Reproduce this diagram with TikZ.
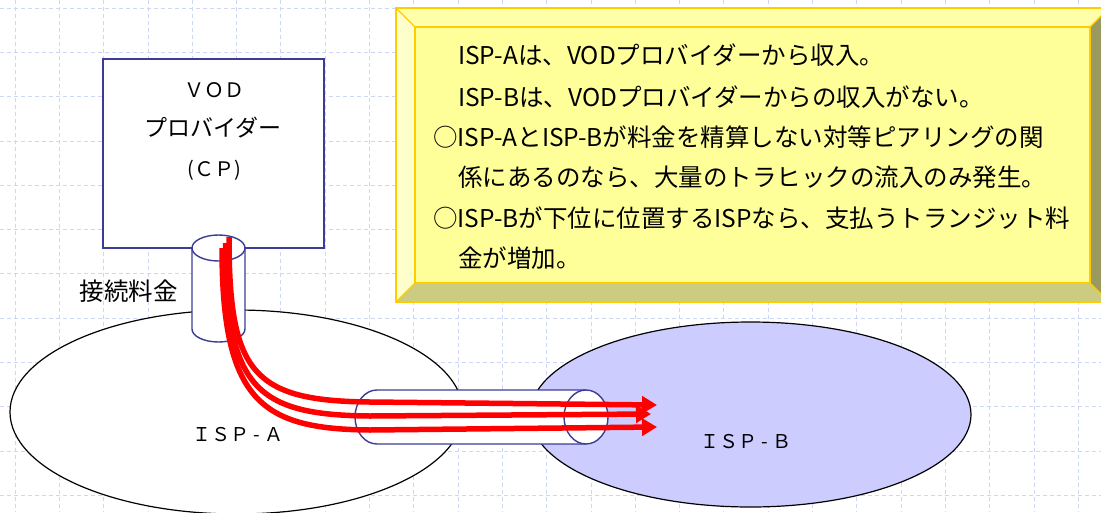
\documentclass[tikz,border=0pt]{standalone}
\usepackage{fontspec}
\newfontfamily\jp{Noto Sans CJK JP}
\usetikzlibrary{arrows.meta}
\definecolor{gridc}{RGB}{205,214,245}
\definecolor{cylc}{RGB}{60,60,150}
\definecolor{ispb}{RGB}{204,204,255}
\definecolor{face}{RGB}{255,255,153}
\definecolor{topbev}{RGB}{255,255,170}
\definecolor{leftbev}{RGB}{255,255,204}
\definecolor{botbev}{RGB}{204,204,128}
\definecolor{rightbev}{RGB}{153,153,96}
\definecolor{goldc}{RGB}{255,204,0}
\tikzset{
  gridline/.style={draw=gridc, line width=0.8pt, dash pattern=on 4pt off 3pt},
  bluestroke/.style={draw=cylc, line width=1.4pt},
  flow/.style={draw=red, line width=5.5pt, -{Triangle[length=15pt,width=17pt]}},
  jtext/.style={font=\jp, inner sep=0pt, text=black},
  boxline/.style={jtext, font=\jp\fontsize{24.5}{28}\selectfont, anchor=west},
}
\begin{document}
\begin{tikzpicture}[x=1pt,y=-1pt]
\useasboundingbox (0,0) rectangle (1101,512);
\begin{scope}
\clip (0,0) rectangle (1101,512);
% grid
\foreach \i in {0,...,24} {\draw[gridline] (15+44.3*\i,0) -- (15+44.3*\i,512);}
\foreach \j in {0,...,11} {\draw[gridline] (0,8+44.3*\j) -- (1101,8+44.3*\j);}

% ISP ellipses
\draw[black, line width=1.2pt, fill=white] (236.5,412) ellipse [x radius=226.5, y radius=102];
\draw[black, line width=1.2pt, fill=ispb] (750.5,414.5) ellipse [x radius=220.5, y radius=92.5];
\node[jtext, font=\jp\fontsize{19}{22}\selectfont] (ispA) at (238,435) {ＩＳＰ - Ａ};
\node[jtext, font=\jp\fontsize{19}{22}\selectfont] (ispB) at (746,442) {ＩＳＰ - Ｂ};

% VOD box
\node[bluestroke, fill=white, minimum width=221pt, minimum height=189pt, inner sep=0pt] (vod) at (213.5,153.5) {};
\node[jtext, font=\jp\fontsize{20}{24}\selectfont] (vod1) at (214,90) {ＶＯＤ};
\node[jtext, font=\jp\fontsize{23}{27}\selectfont] (vod2) at (213,128) {プロバイダー};
\node[jtext, font=\jp\fontsize{20}{24}\selectfont] (vod3) at (214,170) {(ＣＰ)};

% vertical cylinder
\fill[white] (192,248) -- (192,329) arc[start angle=180, end angle=0, x radius=26.5, y radius=13] -- (245,248) -- cycle;
\draw[bluestroke] (192,248) -- (192,329) arc[start angle=180, end angle=0, x radius=26.5, y radius=13] -- (245,248);
\draw[bluestroke, fill=white] (218.5,248) ellipse [x radius=26.5, y radius=13];
\node[jtext, font=\jp\fontsize{24.5}{28}\selectfont] (fee) at (128.5,291) {接続料金};

% horizontal cylinder
\fill[white] (586,390) -- (377,390) arc[start angle=270, end angle=90, x radius=22, y radius=27] -- (586,444) -- cycle;
\draw[bluestroke] (586,390) -- (377,390) arc[start angle=270, end angle=90, x radius=22, y radius=27] -- (586,444);
\draw[bluestroke, fill=white] (586,417) ellipse [x radius=22, y radius=27];

% red flows
\coordinate (s1) at (229,237);
\coordinate (s2) at (225.5,243);
\coordinate (s3) at (222,248);
\coordinate (t1) at (657,405);
\coordinate (t2) at (651,414);
\coordinate (t3) at (657,427);
\draw[flow] (s1) .. controls (229,372) and (252,401) .. (370,402) -- (t1);
\draw[flow] (s2) .. controls (225.5,388) and (256,415) .. (370,416) -- (t2);
\draw[flow] (s3) .. controls (222,402) and (262,429) .. (370,430) -- (t3);

% yellow bevel box
\fill[leftbev] (396,8) -- (415,27) -- (415,283) -- (396,302) -- cycle;
\fill[topbev] (396,8) -- (1109,8) -- (1090,27) -- (415,27) -- cycle;
\fill[botbev] (396,302) -- (415,283) -- (1090,283) -- (1109,302) -- cycle;
\fill[rightbev] (1109,8) -- (1090,27) -- (1090,283) -- (1109,302) -- cycle;
\fill[face] (415,27) rectangle (1090,283);
\draw[goldc, line width=1.3pt] (396,8) rectangle (1109,302);
\draw[goldc, line width=1.3pt] (415,27) rectangle (1090,283);
\draw[goldc, line width=1.3pt] (396,8) -- (415,27) (1109,8) -- (1090,27) (396,302) -- (415,283) (1109,302) -- (1090,283);
\end{scope}
\node[boxline] (l1) at (458,55) {ISP-Aは、VODプロバイダーから収入。};
\node[boxline] (l2) at (458,97) {ISP-Bは、VODプロバイダーからの収入がない。};
\node[boxline] (l3) at (433,137) {○ISP-AとISP-Bが料金を精算しない対等ピアリングの関};
\node[boxline] (l4) at (458,177) {係にあるのなら、大量のトラヒックの流入のみ発生。};
\node[boxline] (l5) at (433,218) {○ISP-Bが下位に位置するISPなら、支払うトランジット料};
\node[boxline] (l6) at (458,258) {金が増加。};
\end{tikzpicture}
\end{document}
